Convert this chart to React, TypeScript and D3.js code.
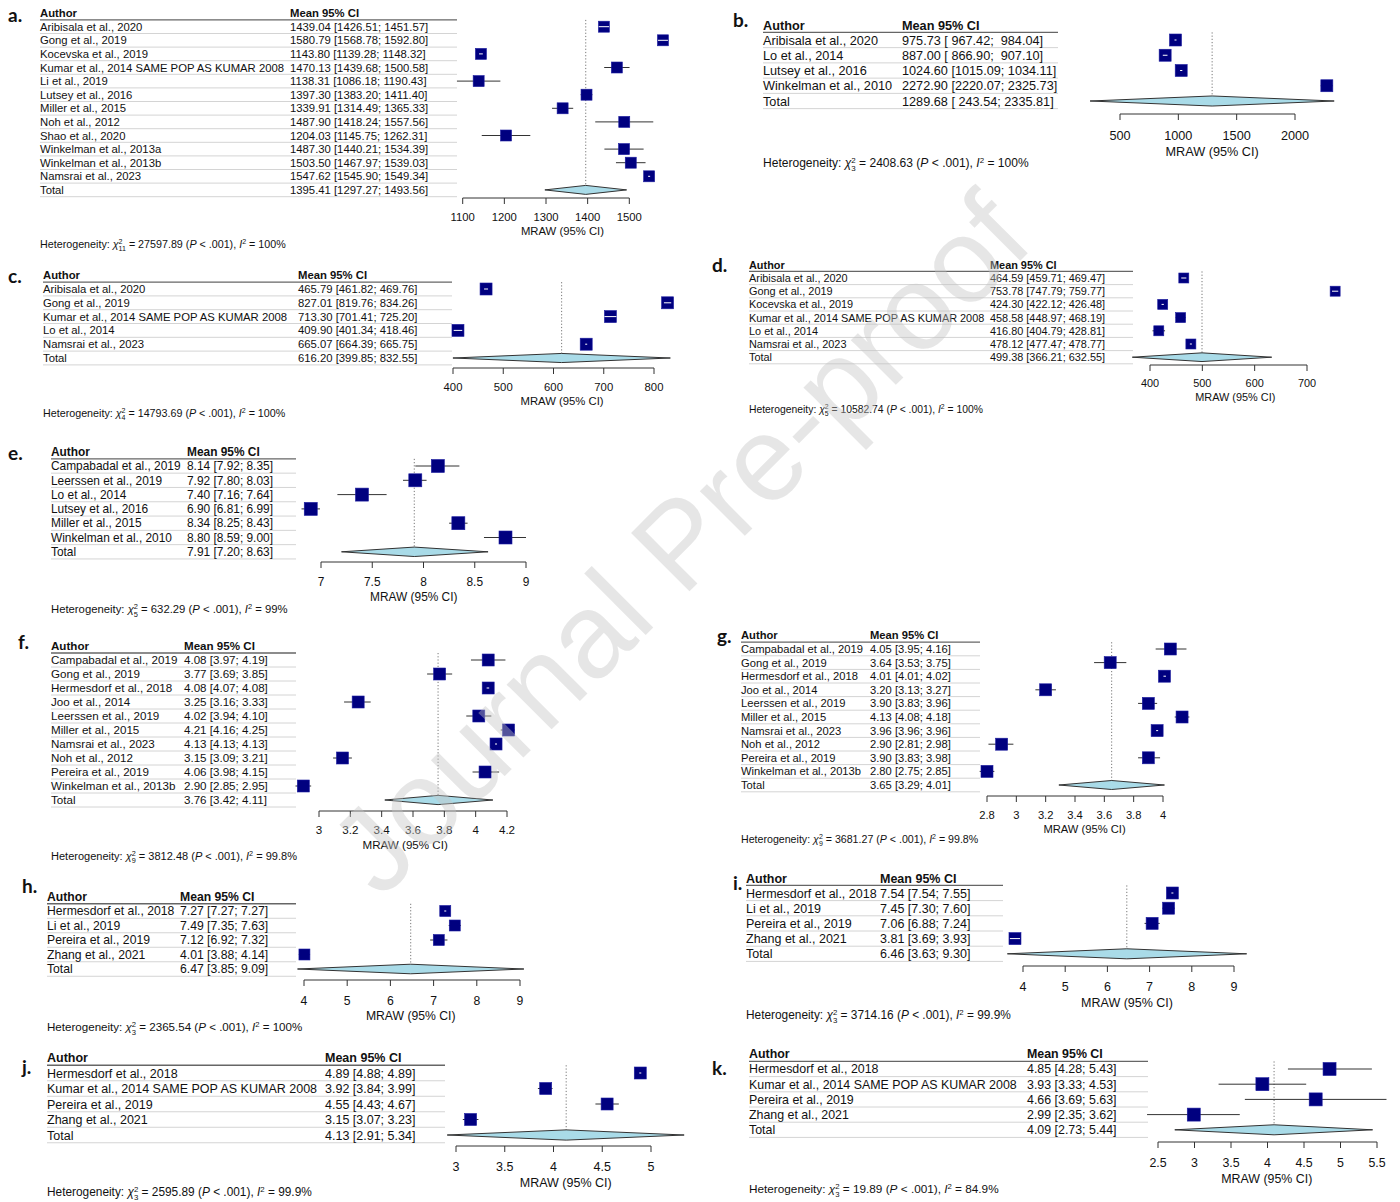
import React from 'react';
import * as d3 from 'd3';

// ================= DATA =================
// a.
const aAuthors = ['Aribisala et al., 2020', 'Gong et al., 2019', 'Kocevska et al., 2019', 'Kumar et al., 2014 SAME POP AS KUMAR 2008', 'Li et al., 2019', 'Lutsey et al., 2016', 'Miller et al., 2015', 'Noh et al., 2012', 'Shao et al., 2020', 'Winkelman et al., 2013a', 'Winkelman et al., 2013b', 'Namsrai et al., 2023'];
const aMean = [1439.04, 1580.79, 1143.8, 1470.13, 1138.31, 1397.3, 1339.91, 1487.9, 1204.03, 1487.3, 1503.5, 1547.62];
const aLower = [1426.51, 1568.78, 1139.28, 1439.68, 1086.18, 1383.2, 1314.49, 1418.24, 1145.75, 1440.21, 1467.97, 1545.9];
const aUpper = [1451.57, 1592.8, 1148.32, 1500.58, 1190.43, 1411.4, 1365.33, 1557.56, 1262.31, 1534.39, 1539.03, 1549.34];
const aTotal = [1395.41, 1297.27, 1493.56];
const aTicks = [1100, 1200, 1300, 1400, 1500];
const aHet = ['27597.89', '11', '100%'];

// b.
const bAuthors = ['Aribisala et al., 2020', 'Lo et al., 2014', 'Lutsey et al., 2016', 'Winkelman et al., 2010'];
const bMean = [975.73, 887.0, 1024.6, 2272.9];
const bLower = [967.42, 866.9, 1015.09, 2220.07];
const bUpper = [984.04, 907.1, 1034.11, 2325.73];
const bTotal = [1289.68, 243.54, 2335.81];
const bTicks = [500, 1000, 1500, 2000];
const bHet = ['2408.63', '3', '100%'];

// c.
const cAuthors = ['Aribisala et al., 2020', 'Gong et al., 2019', 'Kumar et al., 2014 SAME POP AS KUMAR 2008', 'Lo et al., 2014', 'Namsrai et al., 2023'];
const cMean = [465.79, 827.01, 713.3, 409.9, 665.07];
const cLower = [461.82, 819.76, 701.41, 401.34, 664.39];
const cUpper = [469.76, 834.26, 725.2, 418.46, 665.75];
const cTotal = [616.2, 399.85, 832.55];
const cTicks = [400, 500, 600, 700, 800];
const cHet = ['14793.69', '4', '100%'];

// d.
const dAuthors = ['Aribisala et al., 2020', 'Gong et al., 2019', 'Kocevska et al., 2019', 'Kumar et al., 2014 SAME POP AS KUMAR 2008', 'Lo et al., 2014', 'Namsrai et al., 2023'];
const dMean = [464.59, 753.78, 424.3, 458.58, 416.8, 478.12];
const dLower = [459.71, 747.79, 422.12, 448.97, 404.79, 477.47];
const dUpper = [469.47, 759.77, 426.48, 468.19, 428.81, 478.77];
const dTotal = [499.38, 366.21, 632.55];
const dTicks = [400, 500, 600, 700];
const dHet = ['10582.74', '5', '100%'];

// e.
const eAuthors = ['Campabadal et al., 2019', 'Leerssen et al., 2019', 'Lo et al., 2014', 'Lutsey et al., 2016', 'Miller et al., 2015', 'Winkelman et al., 2010'];
const eMean = [8.14, 7.92, 7.4, 6.9, 8.34, 8.8];
const eLower = [7.92, 7.8, 7.16, 6.81, 8.25, 8.59];
const eUpper = [8.35, 8.03, 7.64, 6.99, 8.43, 9.0];
const eTotal = [7.91, 7.2, 8.63];
const eTicks = [7, 7.5, 8, 8.5, 9];
const eHet = ['632.29', '5', '99%'];

// f.
const fAuthors = ['Campabadal et al., 2019', 'Gong et al., 2019', 'Hermesdorf et al., 2018', 'Joo et al., 2014', 'Leerssen et al., 2019', 'Miller et al., 2015', 'Namsrai et al., 2023', 'Noh et al., 2012', 'Pereira et al., 2019', 'Winkelman et al., 2013b'];
const fMean = [4.08, 3.77, 4.08, 3.25, 4.02, 4.21, 4.13, 3.15, 4.06, 2.9];
const fLower = [3.97, 3.69, 4.07, 3.16, 3.94, 4.16, 4.13, 3.09, 3.98, 2.85];
const fUpper = [4.19, 3.85, 4.08, 3.33, 4.1, 4.25, 4.13, 3.21, 4.15, 2.95];
const fTotal = [3.76, 3.42, 4.11];
const fTicks = [3, 3.2, 3.4, 3.6, 3.8, 4, 4.2];
const fHet = ['3812.48', '9', '99.8%'];

// g.
const gAuthors = ['Campabadal et al., 2019', 'Gong et al., 2019', 'Hermesdorf et al., 2018', 'Joo et al., 2014', 'Leerssen et al., 2019', 'Miller et al., 2015', 'Namsrai et al., 2023', 'Noh et al., 2012', 'Pereira et al., 2019', 'Winkelman et al., 2013b'];
const gMean = [4.05, 3.64, 4.01, 3.2, 3.9, 4.13, 3.96, 2.9, 3.9, 2.8];
const gLower = [3.95, 3.53, 4.01, 3.13, 3.83, 4.08, 3.96, 2.81, 3.83, 2.75];
const gUpper = [4.16, 3.75, 4.02, 3.27, 3.96, 4.18, 3.96, 2.98, 3.98, 2.85];
const gTotal = [3.65, 3.29, 4.01];
const gTicks = [2.8, 3, 3.2, 3.4, 3.6, 3.8, 4];
const gHet = ['3681.27', '9', '99.8%'];

// h.
const hAuthors = ['Hermesdorf et al., 2018', 'Li et al., 2019', 'Pereira et al., 2019', 'Zhang et al., 2021'];
const hMean = [7.27, 7.49, 7.12, 4.01];
const hLower = [7.27, 7.35, 6.92, 3.88];
const hUpper = [7.27, 7.63, 7.32, 4.14];
const hTotal = [6.47, 3.85, 9.09];
const hTicks = [4, 5, 6, 7, 8, 9];
const hHet = ['2365.54', '3', '100%'];

// i.
const iAuthors = ['Hermesdorf et al., 2018', 'Li et al., 2019', 'Pereira et al., 2019', 'Zhang et al., 2021'];
const iMean = [7.54, 7.45, 7.06, 3.81];
const iLower = [7.54, 7.3, 6.88, 3.69];
const iUpper = [7.55, 7.6, 7.24, 3.93];
const iTotal = [6.46, 3.63, 9.3];
const iTicks = [4, 5, 6, 7, 8, 9];
const iHet = ['3714.16', '3', '99.9%'];

// j.
const jAuthors = ['Hermesdorf et al., 2018', 'Kumar et al., 2014 SAME POP AS KUMAR 2008', 'Pereira et al., 2019', 'Zhang et al., 2021'];
const jMean = [4.89, 3.92, 4.55, 3.15];
const jLower = [4.88, 3.84, 4.43, 3.07];
const jUpper = [4.89, 3.99, 4.67, 3.23];
const jTotal = [4.13, 2.91, 5.34];
const jTicks = [3, 3.5, 4, 4.5, 5];
const jHet = ['2595.89', '3', '99.9%'];

// k.
const kAuthors = ['Hermesdorf et al., 2018', 'Kumar et al., 2014 SAME POP AS KUMAR 2008', 'Pereira et al., 2019', 'Zhang et al., 2021'];
const kMean = [4.85, 3.93, 4.66, 2.99];
const kLower = [4.28, 3.33, 3.69, 2.35];
const kUpper = [5.43, 4.53, 5.63, 3.62];
const kTotal = [4.09, 2.73, 5.44];
const kTicks = [2.5, 3, 3.5, 4, 4.5, 5, 5.5];
const kHet = ['19.89', '3', '84.9%'];

// ================= LAYOUT (frames only) =================
type Layout = {
  lx: number; ly: number; ax: number; mx: number; hy: number; r0: number; step: number;
  fs: number; tr: number; t0: number; t1: number; axisY: number; hetY: number; sq: number;
};

const LAYOUT: Record<string, Layout> = {
  a: { lx: 8, ly: 15, ax: 40, mx: 290, hy: 13, r0: 26.7, step: 13.6, fs: 11.3, tr: 457, t0: 462.7, t1: 629.3, axisY: 198, hetY: 244, sq: 11 },
  b: { lx: 733, ly: 20, ax: 763, mx: 902, hy: 25, r0: 40, step: 15.25, fs: 12.7, tr: 1058, t0: 1120, t1: 1295, axisY: 114, hetY: 163, sq: 12 },
  c: { lx: 8, ly: 276, ax: 43, mx: 298, hy: 275, r0: 289, step: 13.8, fs: 11.3, tr: 452, t0: 453, t1: 654, axisY: 368, hetY: 413, sq: 12 },
  d: { lx: 712, ly: 265, ax: 749, mx: 990, hy: 265, r0: 278, step: 13.2, fs: 10.9, tr: 1133, t0: 1150, t1: 1307, axisY: 365, hetY: 409, sq: 10 },
  e: { lx: 8, ly: 453, ax: 51, mx: 187, hy: 452, r0: 466, step: 14.3, fs: 11.9, tr: 296, t0: 321, t1: 526, axisY: 562, hetY: 609, sq: 13 },
  f: { lx: 18, ly: 642, ax: 51, mx: 184, hy: 646, r0: 660, step: 14.0, fs: 11.6, tr: 296, t0: 319, t1: 507, axisY: 811, hetY: 856, sq: 12 },
  g: { lx: 717, ly: 636, ax: 741, mx: 870, hy: 635, r0: 649, step: 13.6, fs: 11.2, tr: 980, t0: 987, t1: 1163, axisY: 796, hetY: 839, sq: 12 },
  h: { lx: 22, ly: 886, ax: 47, mx: 180, hy: 897, r0: 911, step: 14.5, fs: 12.2, tr: 296, t0: 304, t1: 520, axisY: 980, hetY: 1027, sq: 11 },
  i: { lx: 733, ly: 883, ax: 746, mx: 880, hy: 878, r0: 893, step: 15.2, fs: 12.5, tr: 1003, t0: 1023, t1: 1234, axisY: 966, hetY: 1015, sq: 12 },
  j: { lx: 22, ly: 1067, ax: 47, mx: 325, hy: 1057, r0: 1073, step: 15.5, fs: 12.5, tr: 445, t0: 456, t1: 651, axisY: 1146, hetY: 1192, sq: 12 },
  k: { lx: 712, ly: 1068, ax: 749, mx: 1027, hy: 1054, r0: 1069, step: 15.2, fs: 12.4, tr: 1148, t0: 1158, t1: 1377, axisY: 1142, hetY: 1189, sq: 13 },
};

const PANELS = [
  { key: 'a', authors: aAuthors, mean: aMean, lower: aLower, upper: aUpper, total: aTotal, ticks: aTicks, het: aHet },
  { key: 'b', authors: bAuthors, mean: bMean, lower: bLower, upper: bUpper, total: bTotal, ticks: bTicks, het: bHet },
  { key: 'c', authors: cAuthors, mean: cMean, lower: cLower, upper: cUpper, total: cTotal, ticks: cTicks, het: cHet },
  { key: 'd', authors: dAuthors, mean: dMean, lower: dLower, upper: dUpper, total: dTotal, ticks: dTicks, het: dHet },
  { key: 'e', authors: eAuthors, mean: eMean, lower: eLower, upper: eUpper, total: eTotal, ticks: eTicks, het: eHet },
  { key: 'f', authors: fAuthors, mean: fMean, lower: fLower, upper: fUpper, total: fTotal, ticks: fTicks, het: fHet },
  { key: 'g', authors: gAuthors, mean: gMean, lower: gLower, upper: gUpper, total: gTotal, ticks: gTicks, het: gHet },
  { key: 'h', authors: hAuthors, mean: hMean, lower: hLower, upper: hUpper, total: hTotal, ticks: hTicks, het: hHet },
  { key: 'i', authors: iAuthors, mean: iMean, lower: iLower, upper: iUpper, total: iTotal, ticks: iTicks, het: iHet },
  { key: 'j', authors: jAuthors, mean: jMean, lower: jLower, upper: jUpper, total: jTotal, ticks: jTicks, het: jHet },
  { key: 'k', authors: kAuthors, mean: kMean, lower: kLower, upper: kUpper, total: kTotal, ticks: kTicks, het: kHet },
];

const FONT = "'Liberation Sans', Arial, Helvetica, sans-serif";
const LABEL_FONT = "Lato, 'Open Sans', sans-serif";
const NAVY = '#00007f';
const DIAMOND = '#a9dbe8';

function Panel({ d, L }: { d: any; L: Layout }) {
  const n = d.authors.length;
  const x = d3.scaleLinear().domain([d.ticks[0], d.ticks[d.ticks.length - 1]]).range([L.t0, L.t1]);
  const fmt = (v: number) => v.toFixed(2);
  const lowS = [...d.lower, d.total[1]].map(fmt);
  const upS = [...d.upper, d.total[2]].map(fmt);
  const wl = d3.max(lowS, (s: string) => s.length) as number;
  const wu = d3.max(upS, (s: string) => s.length) as number;
  const ciText = (m: number, i: number) => `${fmt(m)} [${lowS[i].padStart(wl)}; ${upS[i].padStart(wu)}]`;
  const rowY = (i: number) => L.r0 + i * L.step;
  const totalY = rowY(n);
  const xmin = d3.min([...d.lower, d.total[1]]) as number;
  const xmax = d3.max([...d.upper, d.total[2]]) as number;
  const bl = 0.36 * L.fs;
  const hfs = L.fs * 0.95;
  const sfs = hfs * 0.66;
  const dh = L.step * 0.33;
  const [tm, tl, tu] = d.total;
  const diamond = `M${x(tl)},${totalY} L${x(tm)},${totalY - dh} L${x(tu)},${totalY} L${x(tm)},${totalY + dh} Z`;

  return (
    <g fontFamily={FONT} fill="#111">
      <text x={L.lx} y={L.ly + 6.5} fontFamily={LABEL_FONT} fontWeight={700} fontSize={19}>{d.key}.</text>
      {/* header */}
      <text x={L.ax} y={L.hy + bl} fontSize={L.fs} fontWeight={700}>Author</text>
      <text x={L.mx} y={L.hy + bl} fontSize={L.fs} fontWeight={700}>Mean 95% CI</text>
      <line x1={L.ax} x2={L.tr} y1={L.r0 - L.step / 2} y2={L.r0 - L.step / 2} stroke="#666" strokeWidth={1.3} />
      {/* row separators */}
      {d3.range(n + 1).map((i) => (
        <line key={'sep' + i} x1={L.ax} x2={L.tr} y1={rowY(i) + L.step / 2} y2={rowY(i) + L.step / 2} stroke="#d4d4d4" strokeWidth={1} />
      ))}
      {/* study text */}
      {d.authors.map((a: string, i: number) => (
        <g key={'t' + i}>
          <text x={L.ax} y={rowY(i) + bl} fontSize={L.fs}>{a}</text>
          <text x={L.mx} y={rowY(i) + bl} fontSize={L.fs} style={{ whiteSpace: 'pre' }}>{ciText(d.mean[i], i)}</text>
        </g>
      ))}
      <text x={L.ax} y={totalY + bl} fontSize={L.fs}>Total</text>
      <text x={L.mx} y={totalY + bl} fontSize={L.fs} style={{ whiteSpace: 'pre' }}>{ciText(tm, n)}</text>
      {/* reference dotted line */}
      <line x1={x(tm)} x2={x(tm)} y1={L.r0 - L.step / 2} y2={totalY} stroke="#777" strokeWidth={1} strokeDasharray="1.2,2" />
      {/* CI lines and squares */}
      {d.mean.map((m: number, i: number) => {
        const cy = rowY(i);
        const x0 = x(d.lower[i]);
        const x1 = x(d.upper[i]);
        const inside = x1 - x0 <= L.sq;
        const cx = x(m);
        return (
          <g key={'m' + i}>
            {!inside && <line x1={x0} x2={x1} y1={cy} y2={cy} stroke="#333" strokeWidth={1} />}
            <rect x={cx - L.sq / 2} y={cy - L.sq / 2} width={L.sq} height={L.sq} fill={NAVY} stroke="#1c1ca0" strokeWidth={0.6} />
            {inside && <line x1={Math.min(x0, cx - 1)} x2={Math.max(x1, cx + 1)} y1={cy} y2={cy} stroke="#fff" strokeWidth={1} />}
          </g>
        );
      })}
      {/* total diamond */}
      <path d={diamond} fill={DIAMOND} stroke="#333" strokeWidth={1} />
      {/* axis */}
      <line x1={x(d.ticks[0])} x2={x(d.ticks[d.ticks.length - 1])} y1={L.axisY} y2={L.axisY} stroke="#333" strokeWidth={1} />
      {d.ticks.map((t: number) => (
        <g key={'tk' + t}>
          <line x1={x(t)} x2={x(t)} y1={L.axisY} y2={L.axisY + 6} stroke="#333" strokeWidth={1} />
          <text x={x(t)} y={L.axisY + 1.65 * L.fs + bl} fontSize={L.fs} textAnchor="middle">{String(t)}</text>
        </g>
      ))}
      <text x={x((xmin + xmax) / 2)} y={L.axisY + 2.95 * L.fs + bl} fontSize={L.fs} textAnchor="middle">MRAW (95% CI)</text>
      {/* heterogeneity */}
      <text x={L.ax} y={L.hetY + 0.36 * hfs} fontSize={hfs} style={{ whiteSpace: 'pre' }}>
        <tspan>Heterogeneity: </tspan>
        <tspan fontStyle="italic">χ</tspan>
        <tspan fontSize={sfs} dy={-0.4 * hfs}>2</tspan>
        <tspan fontSize={sfs} dx={-0.556 * sfs} dy={0.72 * hfs}>{d.het[1]}</tspan>
        <tspan dy={-0.32 * hfs}>{` = ${d.het[0]} (`}</tspan>
        <tspan fontStyle="italic">P</tspan>
        <tspan>{' < .001), '}</tspan>
        <tspan fontStyle="italic">I</tspan>
        <tspan fontSize={sfs} dy={-0.4 * hfs}>2</tspan>
        <tspan dy={0.4 * hfs}>{` = ${d.het[2]}`}</tspan>
      </text>
    </g>
  );
}

export default function App() {
  return (
    <svg width={1400} height={1202} viewBox="0 0 1400 1202" style={{ position: 'absolute', left: 0, top: 0, display: 'block', background: '#fff' }}>
      <rect x={0} y={0} width={1400} height={1202} fill="#fff" />
      {PANELS.map((p) => (
        <Panel key={p.key} d={p} L={LAYOUT[p.key]} />
      ))}
      <text
        x={0}
        y={0}
        transform="translate(686,550) rotate(-45)"
        textAnchor="middle"
        dominantBaseline="middle"
        fontFamily={FONT}
        fontSize={120}
        fill="#c4c4c4"
        fillOpacity={0.42}
      >
        Journal Pre-proof
      </text>
    </svg>
  );
}
